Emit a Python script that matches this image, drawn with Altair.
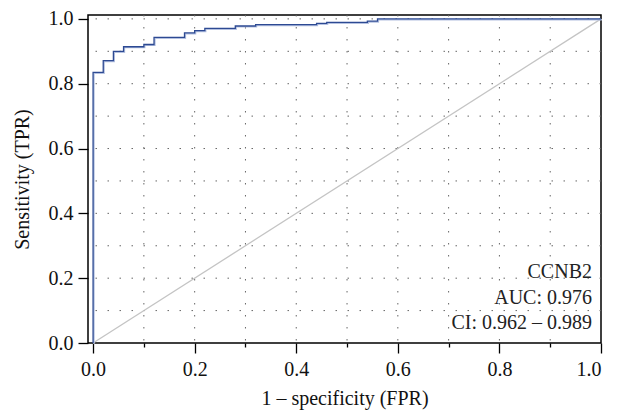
import altair as alt
import pandas as pd

# ROC step curve corners (FPR, TPR)
fpr = [0.0, 0.0, 0.02, 0.04, 0.06, 0.10, 0.12, 0.18, 0.20, 0.22, 0.28, 0.32, 0.44, 0.46, 0.54, 0.56, 1.0]
tpr = [0.0, 0.835, 0.871, 0.900, 0.914, 0.921, 0.943, 0.957, 0.964, 0.971, 0.978, 0.982, 0.986, 0.989, 0.993, 1.0, 1.0]

diag_x = [0.0, 1.0]
diag_y = [0.0, 1.0]

vgrid = [0.1, 0.2, 0.3, 0.4, 0.5, 0.6, 0.7, 0.8, 0.9]
hgrid = [0.1, 0.2, 0.3, 0.4, 0.5, 0.6, 0.7, 0.8, 0.9, 1.0]
x_ticks = [0.0, 0.1, 0.2, 0.3, 0.4, 0.5, 0.6, 0.7, 0.8, 0.9, 1.0]
y_ticks = [0.0, 0.2, 0.4, 0.6, 0.8, 1.0]

legend_lines = ["CCNB2", "AUC: 0.976", "CI: 0.962 \u2013 0.989"]

FONT = "Liberation Serif"

roc = pd.DataFrame({"fpr": fpr, "tpr": tpr, "i": list(range(len(fpr)))})
diag = pd.DataFrame({"fpr": diag_x, "tpr": diag_y})
vg = pd.DataFrame({"fpr": vgrid})
hg = pd.DataFrame({"tpr": hgrid})

xs = alt.Scale(domain=[-0.01, 1.0], nice=False, zero=False)
ys = alt.Scale(domain=[0.0, 1.012], nice=False, zero=False)

even = "round(datum.value*10) % 2 == 0"
x_axis = alt.Axis(
    values=x_ticks,
    labelExpr=f"{even} ? format(datum.value, '.1f') : ''",
    tickSize={"condition": {"test": even, "value": 10}, "value": 4},
    title="1 \u2013 specificity (FPR)",
    grid=False, domain=False, labelPadding=6, titlePadding=9,
)
y_axis = alt.Axis(
    values=y_ticks, format=".1f", tickSize=10, grid=False, domain=False,
    title="Sensitivity (TPR)", labelPadding=5, titlePadding=16,
)

X = alt.X("fpr:Q", scale=xs, axis=x_axis, title="1 \u2013 specificity (FPR)")
Y = alt.Y("tpr:Q", scale=ys, axis=y_axis, title="Sensitivity (TPR)")

vgrid_l = alt.Chart(vg).mark_rule(color="#666666", strokeWidth=1, strokeDash=[1.5, 10.5]).encode(x=X)
hgrid_l = alt.Chart(hg).mark_rule(color="#666666", strokeWidth=1, strokeDash=[1.5, 10.5]).encode(y=Y)
diag_l = alt.Chart(diag).mark_line(color="#c4c4c4", strokeWidth=1.3).encode(x=X, y=Y)
shadow_l = alt.Chart(roc).mark_line(
    color="#b3c0e0", strokeWidth=1.4, interpolate="step-after", xOffset=0.9, yOffset=0.9
).encode(x=X, y=Y, order="i:Q")
curve_l = alt.Chart(roc).mark_line(
    color="#2d4a93", strokeWidth=1.3, interpolate="step-after"
).encode(x=X, y=Y, order="i:Q")
text_l = alt.Chart(pd.DataFrame({"a": [0]})).mark_text(
    text=legend_lines, align="right", baseline="alphabetic", lineHeight=25.5,
    fontSize=20, font=FONT, color="#222222",
).encode(x=alt.value(504), y=alt.value(263))

chart = alt.layer(vgrid_l, hgrid_l, diag_l, shadow_l, curve_l, text_l).properties(
    width=513, height=328,
    autosize=alt.AutoSizeParams(type="none"),
    padding={"left": 80, "top": 7, "right": 12, "bottom": 72},
).configure_view(
    stroke="#000000", strokeWidth=1.5
).configure_axis(
    labelFont=FONT, labelFontSize=20, labelColor="#111111",
    titleFont=FONT, titleFontSize=20, titleFontWeight="normal", titleColor="#111111",
    tickColor="#000000", tickWidth=1.3,
)

chart.save("out.html", embed_options={"renderer": "svg", "actions": False})
